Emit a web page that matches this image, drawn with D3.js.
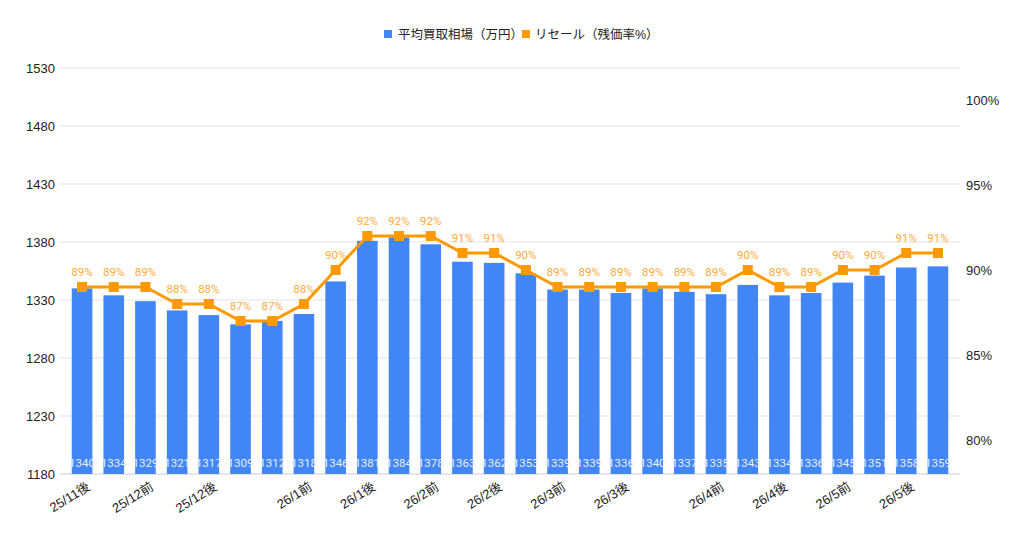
<!DOCTYPE html>
<html><head><meta charset="utf-8">
<script src="https://cdn.jsdelivr.net/npm/d3@7"></script>
<style>
body{margin:0;background:#fff;}
svg{display:block;font-family:"Liberation Sans",Arial,"Noto Sans CJK JP",sans-serif;}
</style></head>
<body><svg id="c" width="1024" height="535"></svg>
<script>
const categories = ["25/11後","","25/12前","","25/12後","","","26/1前","","26/1後","","26/2前","","26/2後","","26/3前","","26/3後","","","26/4前","","26/4後","","26/5前","","26/5後",""];
const prices = [1340,1334,1329,1321,1317,1309,1312,1318,1346,1381,1384,1378,1363,1362,1353,1339,1339,1336,1340,1337,1335,1343,1334,1336,1345,1351,1358,1359];
const rates = [89,89,89,88,88,87,87,88,90,92,92,92,91,91,90,89,89,89,89,89,89,90,89,89,90,90,91,91];
const leftTicks = [1180,1230,1280,1330,1380,1430,1480,1530];
const rightTicks = [80,85,90,95,100];
const seriesNames = ["平均買取相場（万円）","リセール（残価率%）"];

const svg = d3.select("#c");
const blue = "#4285F4", orange = "#FF9900", orangeLbl = "#FFAB40";
const idx = d3.range(prices.length);
const x = d3.scaleBand().domain(idx).range([66.2, 953.8]).paddingInner(0.35).paddingOuter(0.175);
const yL = d3.scaleLinear().domain([1180,1530]).range([474,68]);
const yR = d3.scaleLinear().domain([80,100]).range([440,100]);

// gridlines
svg.append("g").selectAll("line").data(leftTicks).join("line")
  .attr("x1",60).attr("x2",960).attr("y1",d=>yL(d)).attr("y2",d=>yL(d))
  .attr("stroke",d=>d===1180?"#ccc":"#e3e3e3").attr("stroke-width",1);

// left axis
const axL = d3.axisLeft(yL).tickValues(leftTicks).tickFormat(d3.format("d")).tickSize(0).tickPadding(0);
svg.append("g").attr("transform","translate(55,0)").call(axL)
  .call(g=>g.select(".domain").remove())
  .call(g=>g.selectAll("text").attr("font-size",13).attr("fill","#222").attr("font-family","'Liberation Sans',Arial,sans-serif"));

// right axis
const axR = d3.axisRight(yR).tickValues(rightTicks).tickFormat(d=>d+"%").tickSize(0).tickPadding(0);
svg.append("g").attr("transform","translate(966,0)").call(axR)
  .call(g=>g.select(".domain").remove())
  .call(g=>g.selectAll("text").attr("font-size",13).attr("fill","#222").attr("font-family","'Liberation Sans',Arial,sans-serif"));

// bars
svg.append("g").selectAll("rect").data(idx).join("rect")
  .attr("x",i=>x(i)).attr("width",x.bandwidth())
  .attr("y",i=>yL(prices[i])).attr("height",i=>yL(1180)-yL(prices[i]))
  .attr("fill",blue);

// bar labels
svg.append("g").selectAll("text").data(idx).join("text")
  .attr("x",i=>x(i)+x.bandwidth()/2).attr("y",467)
  .attr("text-anchor","middle").attr("font-size",11.5).attr("fill","#e8f0fe")
  .attr("font-family","Roboto,sans-serif")
  .text(i=>prices[i]);

// line
const cx = i=>x(i)+x.bandwidth()/2;
svg.append("path").datum(idx)
  .attr("d",d3.line().x(cx).y(i=>yR(rates[i])))
  .attr("fill","none").attr("stroke",orange).attr("stroke-width",3);
svg.append("g").selectAll("rect").data(idx).join("rect")
  .attr("x",i=>cx(i)-5).attr("y",i=>yR(rates[i])-5).attr("width",10).attr("height",10)
  .attr("fill",orange);
svg.append("g").selectAll("text").data(idx).join("text")
  .attr("x",cx).attr("y",i=>yR(rates[i])-11)
  .attr("text-anchor","middle").attr("font-size",11.5).attr("fill",orangeLbl)
  .attr("font-family","Roboto,sans-serif")
  .text(i=>rates[i]+"%");

// x labels
svg.append("g").selectAll("text").data(idx.filter(i=>categories[i])).join("text")
  .attr("transform",i=>`translate(${cx(i)+9},${489}) rotate(-32)`)
  .attr("text-anchor","end").attr("font-size",13).attr("fill","#222")
  .text(i=>categories[i]);

// legend
const lg = svg.append("g").attr("font-size",12.5).attr("fill","#222");
lg.append("rect").attr("x",384).attr("y",30).attr("width",8).attr("height",8).attr("fill",blue);
lg.append("text").attr("x",398).attr("y",39).text(seriesNames[0]);
lg.append("rect").attr("x",522).attr("y",30).attr("width",8).attr("height",8).attr("fill",orange);
lg.append("text").attr("x",535).attr("y",39).text(seriesNames[1]);
</script></body></html>
